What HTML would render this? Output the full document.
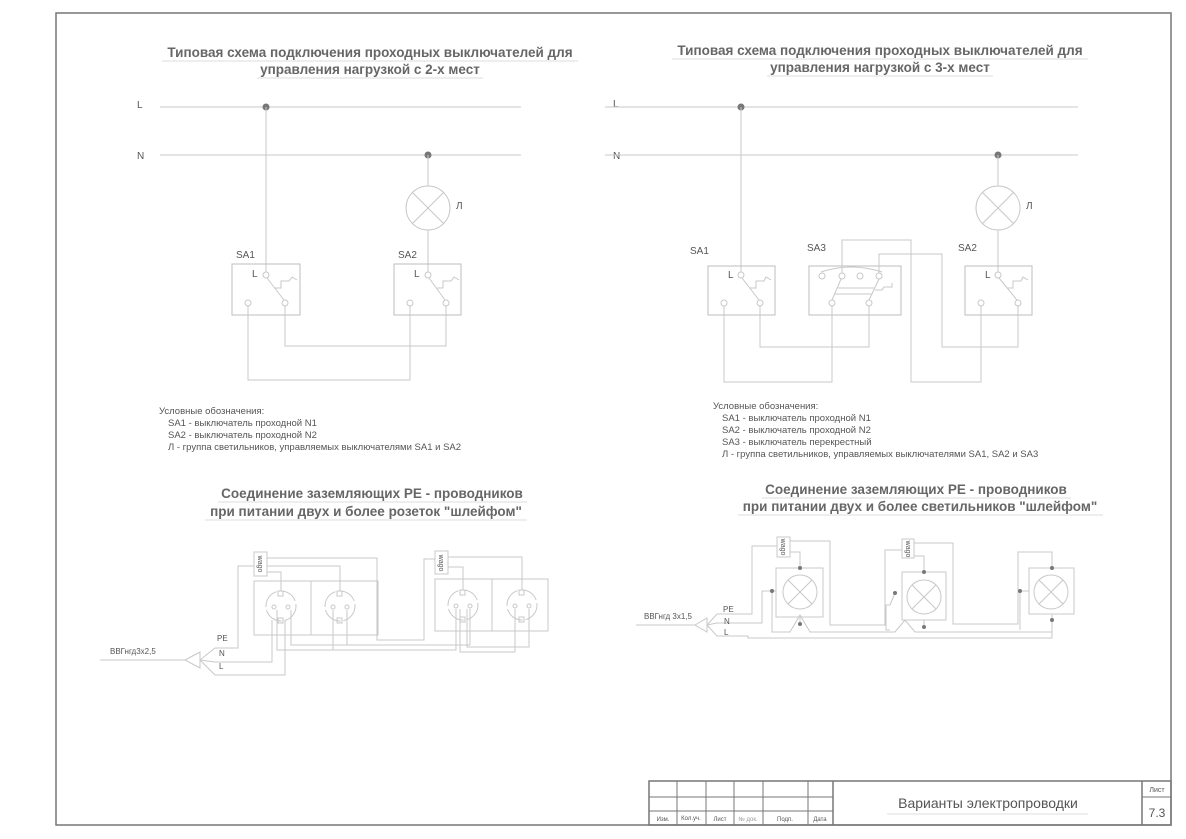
<!DOCTYPE html>
<html><head><meta charset="utf-8"><style>
html,body{margin:0;padding:0;background:#fff;}
svg{display:block;font-family:"Liberation Sans",Arial,sans-serif;}
.w{stroke:#c8c8c8;stroke-width:1;fill:none;}
.b{stroke:#bdbdbd;stroke-width:1;fill:none;}
.t{fill:#666;font-size:13.5px;font-weight:bold;}
.s{fill:#555;font-size:9.5px;}
.l{fill:#555;font-size:10px;}
.d{fill:#777;}
.wg{fill:#555;font-size:7px;}
</style></head><body>
<svg width="1186" height="839" viewBox="0 0 1186 839">
<rect x="56" y="13" width="1115" height="812" fill="none" stroke="#777" stroke-width="1.5"/>

<text class="t" x="370" y="57" text-anchor="middle">Типовая схема подключения проходных выключателей для</text>
<line x1="162" y1="61" x2="578" y2="61" stroke="#ddd"/>
<text class="t" x="370" y="74" text-anchor="middle">управления нагрузкой с 2-х мест</text>
<line x1="257" y1="78" x2="483" y2="78" stroke="#ddd"/>
<text class="t" x="880" y="55" text-anchor="middle">Типовая схема подключения проходных выключателей для</text>
<line x1="672" y1="59" x2="1088" y2="59" stroke="#ddd"/>
<text class="t" x="880" y="72" text-anchor="middle">управления нагрузкой с 3-х мест</text>
<line x1="767" y1="76" x2="993" y2="76" stroke="#ddd"/>

<text class="l" x="137" y="108">L</text>
<text class="l" x="137" y="159">N</text>
<line class="w" x1="160" y1="107" x2="521" y2="107"/>
<line class="w" x1="160" y1="155" x2="521" y2="155"/>
<circle class="d" cx="266" cy="107" r="3.5"/>
<circle class="d" cx="428" cy="155" r="3.5"/>
<line class="w" x1="266" y1="107" x2="266" y2="272"/>
<line class="w" x1="428" y1="155" x2="428" y2="186"/>
<circle class="w" cx="428" cy="208" r="22"/>
<line class="w" x1="412" y1="192" x2="444" y2="224"/><line class="w" x1="444" y1="192" x2="412" y2="224"/>
<text class="l" x="456" y="209">Л</text>
<line class="w" x1="428" y1="230" x2="428" y2="272"/>
<text class="l" x="236" y="258">SA1</text>
<text class="l" x="398" y="258">SA2</text>
<rect class="b" x="232" y="264" width="68" height="51"/>
<rect class="b" x="394" y="264" width="67" height="51"/>
<g class="w">
<circle cx="266" cy="275" r="3"/><circle cx="248" cy="303" r="3"/><circle cx="285" cy="303" r="3"/>
<line x1="267" y1="278" x2="284" y2="300"/><polyline points="275,288 281,288 281,281 289,281 292,277 297,280"/>
<circle cx="428" cy="275" r="3"/><circle cx="410" cy="303" r="3"/><circle cx="446" cy="303" r="3"/>
<line x1="429" y1="278" x2="445" y2="300"/><polyline points="437,288 443,288 443,281 451,281 454,277 459,280"/>
<polyline points="285,306 285,346 446,346 446,306"/>
<polyline points="248,306 248,380 410,380 410,306"/>
</g>
<text class="l" x="252" y="277">L</text>
<text class="l" x="414" y="277">L</text>

<text class="l" x="613" y="107">L</text>
<text class="l" x="613" y="159">N</text>
<line class="w" x1="605" y1="107" x2="1078" y2="107"/>
<line class="w" x1="605" y1="155" x2="1078" y2="155"/>
<circle class="d" cx="741" cy="107" r="3.5"/>
<circle class="d" cx="998" cy="155" r="3.5"/>
<line class="w" x1="741" y1="107" x2="741" y2="272"/>
<line class="w" x1="998" y1="155" x2="998" y2="186"/>
<circle class="w" cx="998" cy="208" r="22"/>
<line class="w" x1="982" y1="192" x2="1014" y2="224"/><line class="w" x1="1014" y1="192" x2="982" y2="224"/>
<text class="l" x="1026" y="209">Л</text>
<line class="w" x1="998" y1="230" x2="998" y2="272"/>
<text class="l" x="690" y="254">SA1</text>
<text class="l" x="807" y="251">SA3</text>
<text class="l" x="958" y="251">SA2</text>
<rect class="b" x="708" y="266" width="67" height="49"/>
<rect class="b" x="809" y="266" width="92" height="49"/>
<rect class="b" x="965" y="266" width="67" height="49"/>
<g class="w">
<circle cx="741" cy="275" r="3"/><circle cx="724" cy="303" r="3"/><circle cx="760" cy="303" r="3"/>
<line x1="742" y1="278" x2="759" y2="300"/><polyline points="750,288 756,288 756,281 764,281 766,277 771,280"/>
<circle cx="998" cy="275" r="3"/><circle cx="981" cy="303" r="3"/><circle cx="1018" cy="303" r="3"/>
<line x1="999" y1="278" x2="1017" y2="300"/><polyline points="1007,288 1013,288 1013,281 1021,281 1023,277 1028,280"/>
<circle cx="822" cy="276" r="3"/><circle cx="842" cy="276" r="3"/><circle cx="860" cy="276" r="3"/><circle cx="879" cy="276" r="3"/>
<circle cx="832" cy="303" r="3"/><circle cx="869" cy="303" r="3"/>
<path d="M821,272 Q851,262 882,272"/>
<line x1="841" y1="279" x2="832" y2="300"/><line x1="879" y1="279" x2="869" y2="300"/>
<line x1="838" y1="288" x2="874" y2="288"/><line x1="835" y1="294" x2="871" y2="294"/>
<polyline points="875,290 882,290 884,287 892,287 892,283"/>
<polyline points="842,273 842,240 911,240 911,382 981,382 981,306"/>
<polyline points="879,273 879,254 942,254 942,347 1018,347 1018,306"/>
<polyline points="760,306 760,347 869,347 869,306"/>
<polyline points="724,306 724,382 832,382 832,306"/>
</g>
<text class="l" x="728" y="278">L</text>
<text class="l" x="985" y="278">L</text>

<g class="s">
<text x="159" y="414">Условные обозначения:</text>
<text x="168" y="426">SA1 - выключатель проходной N1</text>
<text x="168" y="438">SA2 - выключатель проходной N2</text>
<text x="168" y="450">Л - группа светильников, управляемых выключателями SA1 и SA2</text>
<text x="713" y="409">Условные обозначения:</text>
<text x="722" y="421">SA1 - выключатель проходной N1</text>
<text x="722" y="433">SA2 - выключатель проходной N2</text>
<text x="722" y="445">SA3 - выключатель перекрестный</text>
<text x="722" y="457">Л - группа светильников, управляемых выключателями SA1, SA2 и SA3</text>
</g>

<text class="t" x="372" y="498" text-anchor="middle">Соединение заземляющих PE - проводников</text>
<line x1="218" y1="502" x2="527" y2="502" stroke="#ddd"/>
<text class="t" x="366" y="516" text-anchor="middle">при питании двух и более розеток "шлейфом"</text>
<line x1="205" y1="520" x2="527" y2="520" stroke="#ddd"/>
<text class="t" x="916" y="494" text-anchor="middle">Соединение заземляющих PE - проводников</text>
<line x1="762" y1="498" x2="1071" y2="498" stroke="#ddd"/>
<text class="t" x="920" y="511" text-anchor="middle">при питании двух и более светильников "шлейфом"</text>
<line x1="738" y1="515" x2="1103" y2="515" stroke="#ddd"/>

<g class="w">
<line x1="100" y1="660" x2="185" y2="660"/>
<polygon points="185,660 200,652 200,668"/>
<polyline points="200,660 215,648 238,648 238,566 254,566"/>
<polyline points="200,660 215,662 272,662 272,620"/>
<polyline points="200,660 215,675 285,675 285,620"/>
<rect x="254" y="552" width="13" height="24"/>
<rect x="435" y="551" width="13" height="23"/>
<rect x="254" y="581" width="124" height="54"/>
<line x1="311" y1="581" x2="311" y2="635"/>
<rect x="435" y="579" width="113" height="52"/>
<line x1="492" y1="579" x2="492" y2="631"/>
<circle cx="281" cy="606" r="15" stroke-dasharray="20 3"/>
<circle cx="340" cy="606" r="15" stroke-dasharray="20 3"/>
<circle cx="463" cy="605" r="15" stroke-dasharray="20 3"/>
<circle cx="522" cy="605" r="15" stroke-dasharray="20 3"/>
<rect x="278" y="591" width="5" height="5"/><rect x="337" y="591" width="5" height="5"/>
<rect x="460" y="590" width="5" height="5"/><rect x="519" y="590" width="5" height="5"/>
<rect x="278" y="618" width="5" height="5"/><rect x="337" y="618" width="5" height="5"/>
<rect x="460" y="617" width="5" height="5"/><rect x="519" y="617" width="5" height="5"/>
<circle cx="274" cy="607" r="2"/><circle cx="288" cy="607" r="2"/>
<circle cx="333" cy="607" r="2"/><circle cx="347" cy="607" r="2"/>
<circle cx="456" cy="606" r="2"/><circle cx="470" cy="606" r="2"/>
<circle cx="515" cy="606" r="2"/><circle cx="529" cy="606" r="2"/>
<polyline points="267,558 377,558 377,640 424,640 424,559 435,559"/>
<polyline points="267,566 340,566 340,591"/>
<polyline points="267,572 281,572 281,591"/>
<polyline points="448,557 522,557 522,590"/>
<polyline points="448,567 463,567 463,590"/>
<polyline points="277,610 277,650 333,650 333,610"/>
<polyline points="291,610 291,645 347,645 347,610"/>
<polyline points="333,650 456,650 456,609"/>
<polyline points="347,645 470,645 470,609"/>
<polyline points="460,609 460,652 515,652 515,609"/>
<polyline points="467,609 467,647 529,647 529,609"/>
</g>
<text class="wg" transform="translate(258,564) rotate(90)" text-anchor="middle">wago</text>
<text class="wg" transform="translate(439,563) rotate(90)" text-anchor="middle">wago</text>
<text class="s" x="110" y="654" style="font-size:8px">ВВГнгд3х2,5</text>
<text class="s" x="217" y="641" style="font-size:8px">PE</text>
<text class="s" x="219" y="656" style="font-size:8px">N</text>
<text class="s" x="219" y="669" style="font-size:8px">L</text>

<g class="w">
<line x1="636" y1="625" x2="695" y2="625"/>
<polygon points="695,625 707,618 707,632"/>
<polyline points="707,625 717,614 752,614 752,546 777,546"/>
<polyline points="707,625 717,623 762,623 762,591 772,591"/>
<polyline points="707,625 717,636 748,636 748,638 1052,638 1052,620"/>
<rect x="777" y="537" width="13" height="20"/>
<rect x="902" y="539" width="12" height="19"/>
<rect x="776" y="568" width="47" height="49"/>
<rect x="902" y="572" width="44" height="48"/>
<rect x="1029" y="568" width="45" height="46"/>
<circle cx="800" cy="592" r="17"/><line x1="788" y1="580" x2="812" y2="604"/><line x1="812" y1="580" x2="788" y2="604"/>
<circle cx="924" cy="597" r="17"/><line x1="912" y1="585" x2="936" y2="609"/><line x1="936" y1="585" x2="912" y2="609"/>
<circle cx="1051" cy="592" r="17"/><line x1="1039" y1="580" x2="1063" y2="604"/><line x1="1063" y1="580" x2="1039" y2="604"/>
<polyline points="790,541 830,541 830,625 885,625 885,550 902,550"/>
<polyline points="790,552 800,552 800,568"/>
<polyline points="914,543 953,543 953,624 1018,624 1018,552 1052,552 1052,568"/>
<polyline points="914,556 924,556 924,572"/>
<polyline points="772,591 772,632 790,632 800,615 810,632 895,632 905,620 915,632 1052,632"/>
<polyline points="772,591 776,591"/>
<polyline points="895,593 890,605 886,605 886,630 890,630"/>
<polyline points="1020,591 1020,630"/>
<polyline points="1020,591 1029,591"/>
<line x1="800" y1="617" x2="800" y2="624"/><line x1="924" y1="620" x2="924" y2="627"/><line x1="1052" y1="614" x2="1052" y2="620"/>
</g>
<text class="wg" transform="translate(781,547) rotate(90)" text-anchor="middle">wago</text>
<text class="wg" transform="translate(906,549) rotate(90)" text-anchor="middle">wago</text>
<g class="d">
<circle cx="800" cy="568" r="2"/><circle cx="924" cy="572" r="2"/><circle cx="1052" cy="568" r="2"/>
<circle cx="772" cy="591" r="2"/><circle cx="895" cy="593" r="2"/><circle cx="1020" cy="591" r="2"/>
<circle cx="800" cy="624" r="2"/><circle cx="924" cy="627" r="2"/><circle cx="1052" cy="620" r="2"/>
</g>
<text class="s" x="644" y="619" style="font-size:8px">ВВГнгд 3х1,5</text>
<text class="s" x="723" y="612" style="font-size:8px">PE</text>
<text class="s" x="724" y="624" style="font-size:8px">N</text>
<text class="s" x="724" y="635" style="font-size:8px">L</text>

<g stroke="#777" fill="none">
<rect x="649" y="781" width="522" height="44" stroke-width="1.5"/>
<line x1="833" y1="781" x2="833" y2="825" stroke-width="1.5"/>
<line x1="1142" y1="781" x2="1142" y2="825" stroke-width="1.5"/>
<line x1="1142" y1="797" x2="1171" y2="797"/>
<line x1="649" y1="797" x2="833" y2="797"/>
<line x1="649" y1="811" x2="833" y2="811"/>
<line x1="677" y1="781" x2="677" y2="825"/><line x1="706" y1="781" x2="706" y2="825"/>
<line x1="734" y1="781" x2="734" y2="825"/><line x1="763" y1="781" x2="763" y2="825"/>
<line x1="808" y1="781" x2="808" y2="825"/>
</g>
<g style="font-size:6px" fill="#555" text-anchor="middle">
<text x="663" y="821">Изм.</text><text x="691" y="820">Кол.уч.</text><text x="720" y="821">Лист</text>
<text x="748" y="821" fill="#999">№ док.</text><text x="785" y="821">Подп.</text><text x="820" y="821">Дата</text>
<text x="1157" y="792" style="font-size:7px">Лист</text>
</g>
<text x="988" y="808" text-anchor="middle" fill="#555" style="font-size:14px">Варианты электропроводки</text>
<line x1="887" y1="814" x2="1088" y2="814" stroke="#ddd"/>
<text x="1157" y="817" text-anchor="middle" fill="#555" style="font-size:12px">7.3</text>
</svg>
</body></html>
